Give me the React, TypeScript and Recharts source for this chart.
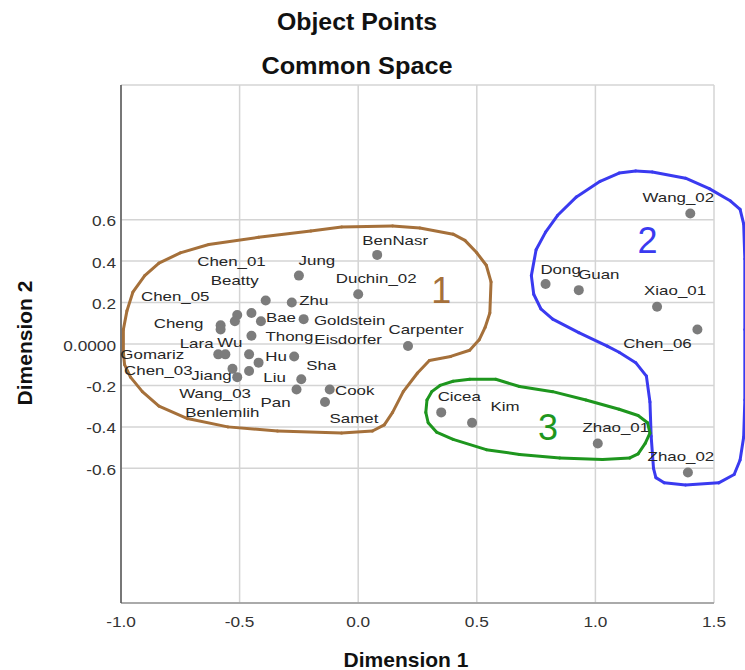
import React from 'react';
import {
  ScatterChart,
  Scatter,
  XAxis,
  YAxis,
  CartesianGrid,
  ReferenceLine,
  ReferenceDot,
} from 'recharts';

// object points in the common space
const names = [
  'BenNasr', 'Jung', 'Duchin_02', 'Carpenter', 'Sha', 'Zhu', 'Goldstein', 'Eisdorfer',
  'Cook', 'Pan', 'Samet', 'Beatty', 'Chen_01', 'Chen_05', 'Wu', 'Bae', 'Cheng', 'Lara',
  'Thong', 'Gomariz', 'Chen_03', 'Hu', 'Liu', 'Jiang', 'Wang_03', 'Benlemlih',
  'Wang_02', 'Dong', 'Guan', 'Xiao_01', 'Chen_06', 'Cicea', 'Kim', 'Zhao_01', 'Zhao_02',
];
const dim1 = [
  0.08, -0.25, 0.0, 0.21, -0.24, -0.28, -0.23, -0.27,
  -0.12, -0.26, -0.14, -0.39, -0.45, -0.51, -0.52, -0.41, -0.58, -0.58,
  -0.45, -0.59, -0.56, -0.46, -0.42, -0.53, -0.46, -0.51,
  1.4, 0.79, 0.93, 1.26, 1.43, 0.35, 0.48, 1.01, 1.39,
];
const dim2 = [
  0.43, 0.33, 0.24, -0.01, -0.17, 0.2, 0.12, -0.06,
  -0.22, -0.22, -0.28, 0.21, 0.15, 0.14, 0.11, 0.11, 0.09, 0.07,
  0.04, -0.05, -0.05, -0.05, -0.09, -0.12, -0.13, -0.16,
  0.63, 0.29, 0.26, 0.18, 0.07, -0.33, -0.38, -0.48, -0.62,
];

const xTicks = [-1.0, -0.5, 0.0, 0.5, 1.0, 1.5];
const yTicks = [-0.6, -0.4, -0.2, 0.0, 0.2, 0.4, 0.6];

// hand drawn cluster outlines (dimension units)
const cluster1 = [
  [-0.99, -0.04], [-0.985, -0.1], [-0.96, -0.16], [-0.91, -0.23], [-0.84, -0.3],
  [-0.72, -0.36], [-0.55, -0.4], [-0.34, -0.42], [-0.07, -0.43], [0.06, -0.42],
  [0.11, -0.39], [0.145, -0.33], [0.19, -0.23], [0.25, -0.14], [0.3, -0.08],
  [0.39, -0.06], [0.47, -0.03], [0.51, 0.02], [0.535, 0.08], [0.555, 0.15],
  [0.56, 0.3], [0.54, 0.38], [0.5, 0.44], [0.45, 0.5], [0.4, 0.53],
  [0.26, 0.56], [0.145, 0.57], [-0.07, 0.565], [-0.2, 0.545], [-0.42, 0.515],
  [-0.63, 0.48], [-0.75, 0.44], [-0.84, 0.39], [-0.9, 0.33], [-0.95, 0.25],
  [-0.975, 0.16], [-0.99, 0.07],
];
const cluster2 = [
  [1.1, 0.825], [1.17, 0.835], [1.24, 0.83], [1.38, 0.8], [1.48, 0.75], [1.57, 0.69],
  [1.61, 0.65], [1.625, 0.58], [1.63, 0.41], [1.63, 0.07], [1.63, -0.27], [1.625, -0.45],
  [1.61, -0.56], [1.585, -0.63], [1.52, -0.67], [1.38, -0.68], [1.29, -0.67],
  [1.255, -0.645], [1.245, -0.6], [1.235, -0.445], [1.23, -0.28], [1.215, -0.155],
  [1.17, -0.09], [1.1, -0.04], [1.05, -0.01], [0.93, 0.055], [0.82, 0.12],
  [0.77, 0.17], [0.74, 0.24], [0.73, 0.33], [0.75, 0.455], [0.79, 0.54],
  [0.84, 0.62], [0.92, 0.71], [1.02, 0.785],
];
const cluster3 = [
  [0.29, -0.27], [0.31, -0.23], [0.345, -0.2], [0.4, -0.18], [0.47, -0.17],
  [0.58, -0.17], [0.68, -0.205], [0.82, -0.23], [0.96, -0.27], [1.1, -0.315],
  [1.18, -0.345], [1.22, -0.38], [1.23, -0.43], [1.21, -0.48], [1.18, -0.53],
  [1.145, -0.55], [1.03, -0.557], [0.85, -0.55], [0.68, -0.533], [0.54, -0.51],
  [0.4, -0.46], [0.33, -0.425], [0.295, -0.38], [0.285, -0.33],
];
const clusterTags = ['1', '2', '3'];
const tagX = [0.35, 1.22, 0.8];
const tagY = [0.26, 0.5, -0.4];
const clusterColors = ['#a5703a', '#3a3af0', '#1e961e'];

// where each label sits relative to its point (px), SPSS places them around the dot
const labelOffset: Record<string, [number, number]> = {
  BenNasr: [18, -15], Jung: [18, -15], Duchin_02: [18, -16], Carpenter: [18, -17],
  Sha: [20, -14], Zhu: [22, -2], Goldstein: [46, 1], Eisdorfer: [54, -17],
  Cook: [25, 1], Pan: [-21, 13], Samet: [29, 16], Beatty: [-31, -20],
  Chen_01: [-20, -52], Chen_05: [-62, -19], Wu: [-5, 21], Bae: [20, -4],
  Cheng: [-42, -2], Lara: [-24, 14], Thong: [38, 1], Gomariz: [-66, 0],
  Chen_03: [-67, 16], Hu: [27, 2], Liu: [16, 15], Jiang: [-21, 6],
  Wang_03: [-34, 22], Benlemlih: [-15, 35], Wang_02: [-12, -16], Dong: [15, -15],
  Guan: [20, -16], Xiao_01: [18, -16], Chen_06: [-40, 14], Cicea: [18, -16],
  Kim: [33, -16], Zhao_01: [18, -16], Zhao_02: [-7, -16],
};

const points = names.map((name, i) => ({ name, x: dim1[i], y: dim2[i] }));
const loops = [cluster1, cluster2, cluster3];

const font = '"Liberation Sans", Arial, sans-serif';

const PointShape = (props: any) => {
  const { cx, cy, payload } = props;
  const [dx, dy] = labelOffset[payload.name] || [18, -16];
  return (
    <g>
      <circle cx={cx} cy={cy} r={5} fill="#7c7c7c" />
      <text
        transform={`translate(${cx + dx},${cy + dy}) scale(1.3,1)`}
        textAnchor="middle"
        dominantBaseline="central"
        fontFamily={font}
        fontSize={13}
        fill="#262626"
      >
        {payload.name}
      </text>
    </g>
  );
};

const XTick = (props: any) => {
  const { x, payload } = props;
  return (
    <text
      transform={`translate(${x},621) scale(1.15,1)`}
      textAnchor="middle"
      dominantBaseline="central"
      fontFamily={font}
      fontSize={15}
      fill="#333"
    >
      {payload.value.toFixed(1)}
    </text>
  );
};

const YTick = (props: any) => {
  const { y, payload } = props;
  const label = payload.value === 0 ? '0.0000' : payload.value.toFixed(1);
  return (
    <text
      transform={`translate(116,${y + 1}) scale(1.15,1)`}
      textAnchor="end"
      dominantBaseline="central"
      fontFamily={font}
      fontSize={15}
      fill="#333"
    >
      {label}
    </text>
  );
};

export default function App() {
  return (
    <div
      style={{
        position: 'absolute',
        left: 0,
        top: 0,
        width: 745,
        height: 670,
        background: '#fff',
        fontFamily: font,
      }}
    >
      <div
        style={{
          position: 'absolute',
          left: 357,
          top: 22,
          transform: 'translate(-50%,-50%) scaleX(1.08)',
          fontWeight: 'bold',
          fontSize: 23,
          whiteSpace: 'nowrap',
          color: '#111',
        }}
      >
        Object Points
      </div>
      <div
        style={{
          position: 'absolute',
          left: 357,
          top: 66,
          transform: 'translate(-50%,-50%) scaleX(1.1)',
          fontWeight: 'bold',
          fontSize: 23,
          whiteSpace: 'nowrap',
          color: '#111',
        }}
      >
        Common Space
      </div>
      <div
        style={{
          position: 'absolute',
          left: 406,
          top: 660,
          transform: 'translate(-50%,-50%)',
          fontWeight: 'bold',
          fontSize: 21,
          whiteSpace: 'nowrap',
          color: '#111',
        }}
      >
        Dimension 1
      </div>
      <div
        style={{
          position: 'absolute',
          left: 25,
          top: 343,
          transform: 'translate(-50%,-50%) rotate(-90deg)',
          fontWeight: 'bold',
          fontSize: 21,
          whiteSpace: 'nowrap',
          color: '#111',
        }}
      >
        Dimension 2
      </div>

      <div style={{ position: 'absolute', left: 0, top: 0 }}>
        <ScatterChart
          width={745}
          height={670}
          margin={{ top: 85, right: 31, bottom: 0, left: 0 }}
          style={{ overflow: 'visible' }}
        >
          <CartesianGrid stroke="#d4d4d4" strokeWidth={1.5} />
          <XAxis
            type="number"
            dataKey="x"
            domain={[-1, 1.5]}
            ticks={xTicks}
            height={67}
            tickLine={false}
            axisLine={{ stroke: '#999', strokeWidth: 1.5 }}
            tick={<XTick />}
            interval={0}
          />
          <YAxis
            type="number"
            dataKey="y"
            domain={[-1.25, 1.25]}
            ticks={yTicks}
            width={121}
            tickLine={false}
            axisLine={{ stroke: '#555', strokeWidth: 1.5 }}
            tick={<YTick />}
            interval={0}
          />
          <Scatter
            data={points}
            shape={<PointShape />}
            isAnimationActive={false}
          />
          {loops.map((loop, k) =>
            loop.map((p, i) => {
              const q = loop[(i + 1) % loop.length];
              return (
                <ReferenceLine
                  key={`loop-${k}-${i}`}
                  segment={[
                    { x: p[0], y: p[1] },
                    { x: q[0], y: q[1] },
                  ]}
                  stroke={clusterColors[k]}
                  strokeWidth={3}
                  strokeLinecap="round"
                  ifOverflow="visible"
                />
              );
            })
          )}
          {clusterTags.map((tag, k) => (
            <ReferenceDot
              key={`tag-${k}`}
              x={tagX[k]}
              y={tagY[k]}
              r={0}
              fill="none"
              stroke="none"
              ifOverflow="visible"
              label={{
                value: tag,
                position: 'center',
                fill: clusterColors[k],
                fontSize: 36,
                fontFamily: font,
              }}
            />
          ))}
        </ScatterChart>
      </div>
    </div>
  );
}
